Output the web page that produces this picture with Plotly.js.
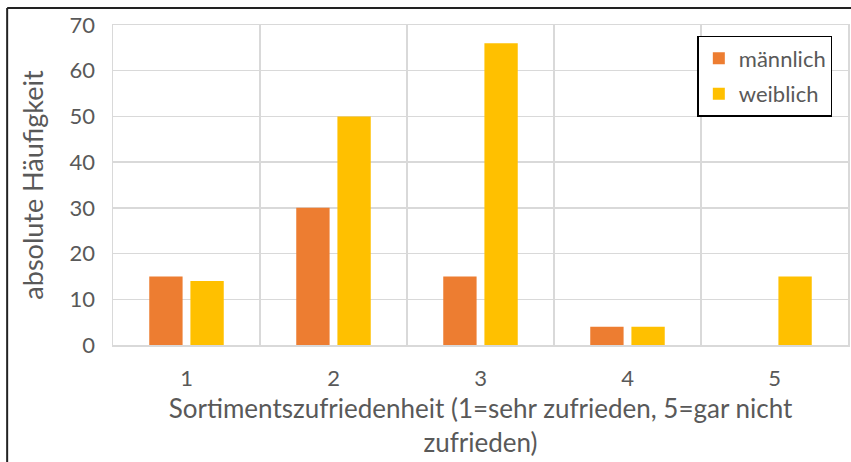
<!DOCTYPE html>
<html><head><meta charset="utf-8">
<script src="https://cdn.plot.ly/plotly-3.0.1.min.js"></script>
<style>html,body{margin:0;padding:0;background:#fff;}#chart{width:851px;height:462px;}</style>
</head><body><div id="chart"></div>
<script>
const categories = [1, 2, 3, 4, 5];
const tickLabels = ["1", "2", "3", "4", "5"];
const maennlich = [15, 30, 15, 4, 0];
const weiblich = [14, 50, 66, 4, 15];
const seriesNames = ["männlich", "weiblich"];

const txt = "#595959";
const grid = "#d9d9d9";
const fontFam = "Lato, 'Open Sans', sans-serif";

const traces = [
  {type: "bar", x: categories, y: maennlich, name: seriesNames[0], legendgroup: "m", marker: {color: "#ed7d31"}},
  {type: "bar", x: categories, y: weiblich, name: seriesNames[1], legendgroup: "w", marker: {color: "#ffc000"}}
];

const layout = {
  width: 851, height: 462,
  margin: {l: 113, r: 3, t: 25, b: 117},
  paper_bgcolor: "#fff", plot_bgcolor: "#fff",
  font: {family: fontFam, color: txt, size: 22},
  barmode: "group", bargap: 0.44, bargroupgap: 0.19,
  showlegend: true,
  legend: {x: 0.795, y: 0.966, xanchor: "left", yanchor: "top", bgcolor: "#fff",
           bordercolor: "#000", borderwidth: 1.5, font: {size: 22, color: txt},
           traceorder: "grouped", tracegroupgap: 4, itemwidth: 30},
  xaxis: {range: [0.5, 5.5], tickvals: categories, ticktext: tickLabels, showgrid: false,
          minor: {tick0: 0.5, dtick: 1, showgrid: true, gridcolor: grid, gridwidth: 1.5},
          showline: true, linecolor: grid, linewidth: 1.5, mirror: true, zeroline: false,
          ticks: "", ticklabelstandoff: 13, tickfont: {size: 22, color: txt},
          title: {text: "Sortimentszufriedenheit (1=sehr zufrieden, 5=gar nicht<br>zufrieden)",
                  font: {size: 26, color: txt}, standoff: 10}},
  yaxis: {range: [0, 70], dtick: 10, showgrid: true, gridcolor: grid, gridwidth: 1.5,
          showline: true, linecolor: grid, linewidth: 1.5, mirror: true, zeroline: false,
          ticks: "", ticklabelstandoff: 12, tickfont: {size: 22, color: txt},
          title: {text: "absolute Häufigkeit", font: {size: 27, color: txt}, standoff: 18}},
  shapes: [
    {type: "line", xref: "paper", yref: "paper", x0: -0.144, x1: -0.144, y0: 1.053, y1: -0.4, line: {color: "#222", width: 2}},
    {type: "line", xref: "paper", yref: "paper", x0: -0.144, x1: 1.01, y0: 1.053, y1: 1.053, line: {color: "#222", width: 2}}
  ]
};

Plotly.newPlot("chart", traces, layout, {displayModeBar: false, staticPlot: true});
</script></body></html>
